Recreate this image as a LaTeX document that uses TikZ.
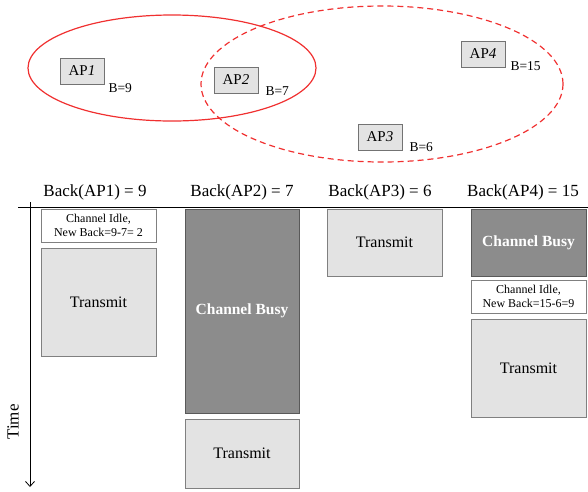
\documentclass[tikz,border=0pt]{standalone}
\usepackage{fontspec}
\setmainfont{Liberation Serif}
\usepackage{tikz}
\usetikzlibrary{positioning,shadows,arrows.meta}

\definecolor{boxgray}{HTML}{E3E3E3}
\definecolor{busygray}{HTML}{8C8C8C}
\definecolor{rangered}{HTML}{F03030}

\begin{document}
\begin{tikzpicture}[x=1pt, y=-1pt, >={Straight Barb[length=5pt,width=9pt]},
apnode/.style={rectangle, draw=black!55, fill=boxgray, thick, minimum width=44pt, minimum height=26pt, inner sep=0pt, font=\fontsize{15}{16}\selectfont, drop shadow={shadow xshift=1.2pt, shadow yshift=-1.2pt, opacity=0.45}},
backoff/.style={font=\fontsize{13.5}{14}\selectfont, inner sep=0pt, anchor=north west},
header/.style={font=\fontsize{17}{18}\selectfont, inner sep=0pt},
txnode/.style={rectangle, draw=black!50, fill=boxgray, line width=0.9pt, minimum width=115pt, inner sep=0pt, outer sep=0pt, font=\fontsize{16}{17}\selectfont},
busynode/.style={rectangle, draw=black!65, fill=busygray, line width=0.9pt, minimum width=115pt, inner sep=0pt, outer sep=0pt, text=white, font=\bfseries\fontsize{15.5}{17}\selectfont},
idlenode/.style={rectangle, draw=black!50, fill=white, line width=0.9pt, minimum width=115pt, minimum height=33pt, inner sep=0pt, outer sep=0pt, align=center, font=\fontsize{12}{13.5}\selectfont},
node distance=6pt,
]
\useasboundingbox (0,0) rectangle (588,491);

%Ranges
\draw[rangered, line width=1.2pt] (172,68) ellipse [x radius=144, y radius=53];
\draw[rangered, line width=1.2pt, dash pattern=on 6pt off 4pt] (382,84) ellipse [x radius=181, y radius=78];

%Access points
\node[apnode]      (AP1)    at (82,71)      {AP\textit{1}};
\node[apnode]      (AP2)    at (236,80)     {AP\textit{2}};
\node[apnode]      (AP3)    at (380,137)    {AP\textit{3}};
\node[apnode]      (AP4)    at (483,54)     {AP\textit{4}};
\node[backoff]   (B1)   at ([shift={(4,-1)}]AP1.south east)   {B=9};
\node[backoff]   (B2)   at ([shift={(7,-7)}]AP2.south east)   {B=7};
\node[backoff]   (B3)   at ([shift={(7,-8)}]AP3.south east)   {B=6};
\node[backoff]   (B4)   at ([shift={(5,-6)}]AP4.south east)   {B=15};

%Headers
\node[header]      (H1)     at (95,192)     {Back(AP1) = 9};
\node[header]      (H2)     at (242,192)    {Back(AP2) = 7};
\node[header]      (H3)     at (380,192)    {Back(AP3) = 6};
\node[header]      (H4)     at (523,192)    {Back(AP4) = 15};

%Time line
\coordinate (L0) at (18,207);
\coordinate (L1) at (588,207);
\coordinate (T0) at (30,202);
\coordinate (T1) at (30,487);
\node[header, rotate=90] (time) at (13,422) {Time};

%Column 1
\node[idlenode, anchor=north]            (idle1)   at (98.5,209)    {Channel Idle,\\New Back=9-7= 2};
\node[txnode, minimum height=108pt]      (tx1)     [below=of idle1]   {Transmit};

%Column 2
\node[busynode, minimum height=204pt, minimum width=114pt, anchor=north]   (busy2)   at (242,209)   {Channel Busy};
\node[txnode, minimum height=69pt, minimum width=114pt]   (tx2)   [below=of busy2]   {Transmit};

%Column 3
\node[txnode, minimum height=67pt, anchor=north]   (tx3)   at (384.5,209)   {Transmit};

%Column 4
\node[busynode, minimum height=67pt, anchor=north]   (busy4)   at (528.5,209)   {Channel Busy};
\node[idlenode]                          (idle4)   [below=4pt of busy4]   {Channel Idle,\\New Back=15-6=9};
\node[txnode, minimum height=98pt]       (tx4)     [below=of idle4]   {Transmit};

%Lines
\draw[line width=0.9pt] (L0) -- (L1);
\draw[->, line width=0.8pt] (T0) -- (T1);
\end{tikzpicture}
\end{document}
